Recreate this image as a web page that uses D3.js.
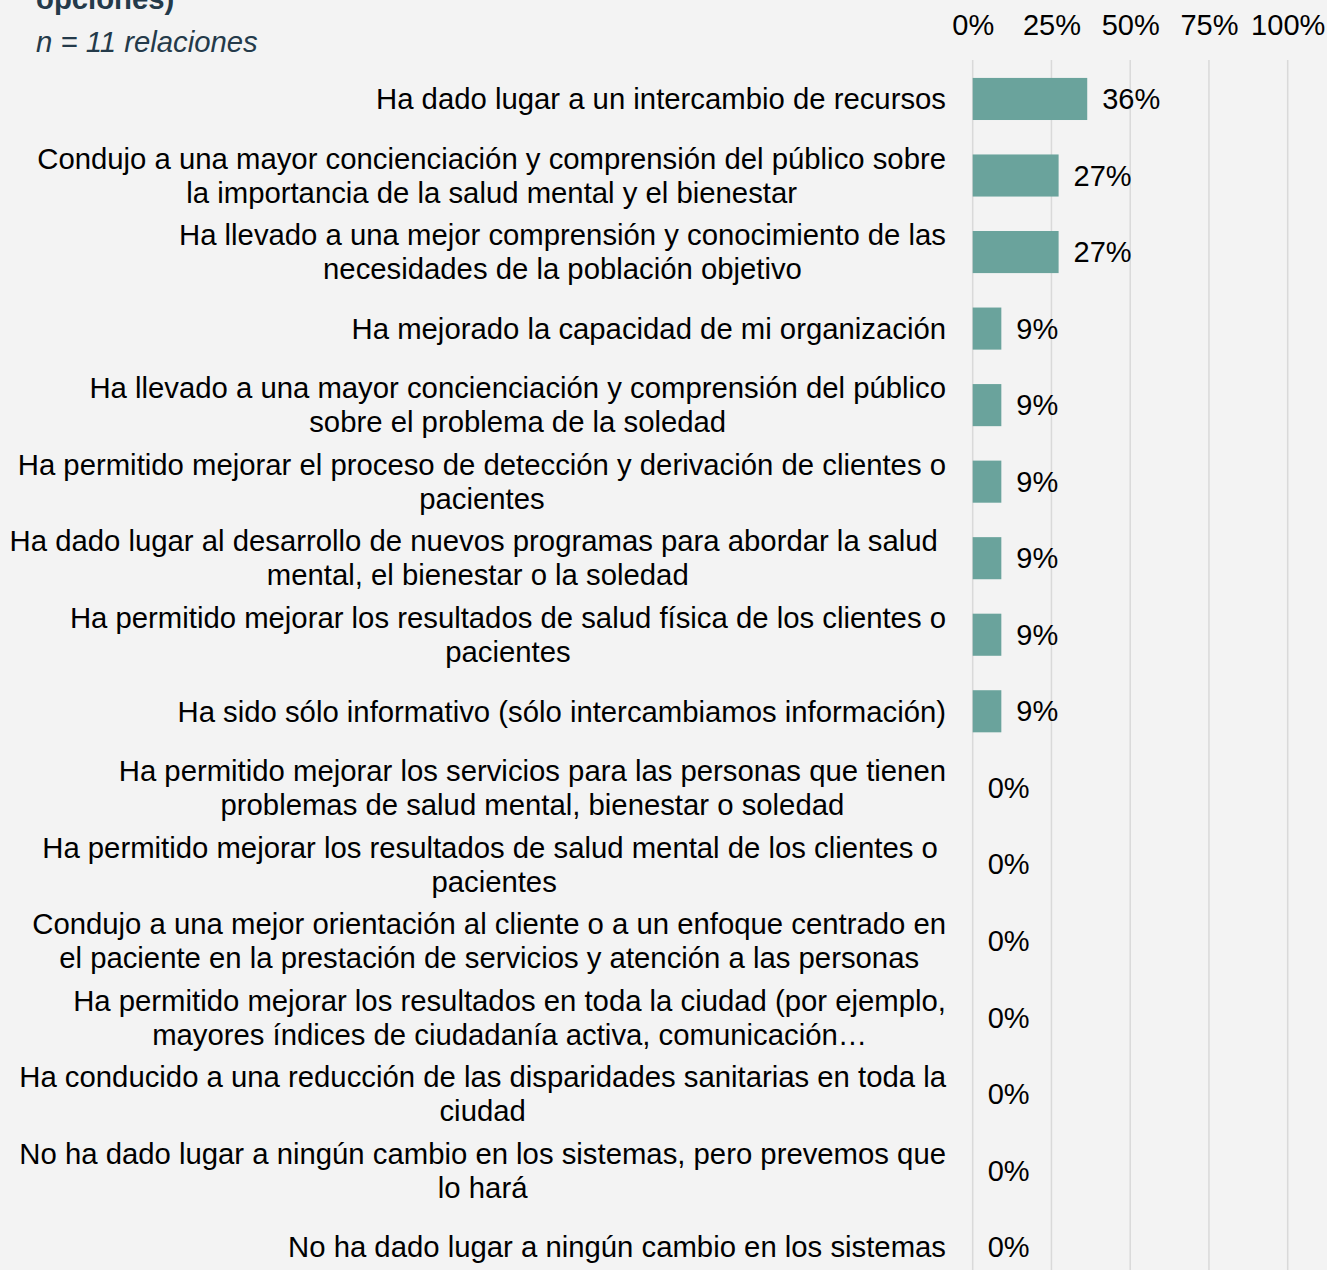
<!DOCTYPE html>
<html>
<head>
<meta charset="utf-8">
<script src="https://cdn.jsdelivr.net/npm/d3@7"></script>
<style>
  html, body { margin: 0; padding: 0; background: #f3f3f3; }
  svg { display: block; }
  text { font-family: "Liberation Sans", Arial, sans-serif; white-space: pre; }
</style>
</head>
<body>
<svg id="chart" width="1327" height="1270"></svg>
<script>
const categories = [
  "Ha dado lugar a un intercambio de recursos",
  "Condujo a una mayor concienciación y comprensión del público sobre\nla importancia de la salud mental y el bienestar",
  "Ha llevado a una mejor comprensión y conocimiento de las\nnecesidades de la población objetivo",
  "Ha mejorado la capacidad de mi organización",
  "Ha llevado a una mayor concienciación y comprensión del público\nsobre el problema de la soledad",
  "Ha permitido mejorar el proceso de detección y derivación de clientes o\npacientes",
  "Ha dado lugar al desarrollo de nuevos programas para abordar la salud \nmental, el bienestar o la soledad",
  "Ha permitido mejorar los resultados de salud física de los clientes o\npacientes",
  "Ha sido sólo informativo (sólo intercambiamos información)",
  "Ha permitido mejorar los servicios para las personas que tienen\nproblemas de salud mental, bienestar o soledad",
  "Ha permitido mejorar los resultados de salud mental de los clientes o \npacientes",
  "Condujo a una mejor orientación al cliente o a un enfoque centrado en\nel paciente en la prestación de servicios y atención a las personas",
  "Ha permitido mejorar los resultados en toda la ciudad (por ejemplo,\nmayores índices de ciudadanía activa, comunicación…",
  "Ha conducido a una reducción de las disparidades sanitarias en toda la\nciudad",
  "No ha dado lugar a ningún cambio en los sistemas, pero prevemos que\nlo hará",
  "No ha dado lugar a ningún cambio en los sistemas"
];
const values = [36.36, 27.27, 27.27, 9.09, 9.09, 9.09, 9.09, 9.09, 9.09, 0, 0, 0, 0, 0, 0, 0];
const valueLabels = ["36%", "27%", "27%", "9%", "9%", "9%", "9%", "9%", "9%", "0%", "0%", "0%", "0%", "0%", "0%", "0%"];
const tickValues = [0, 25, 50, 75, 100];
const tickLabels = ["0%", "25%", "50%", "75%", "100%"];
const subtitle = "n = 11 relaciones";
const titleTail = "opciones)";

const svg = d3.select("#chart");
const fontSize = 29.3;
const x = d3.scaleLinear().domain([0, 100]).range([972.7, 1287.7]);
const y = d3.scaleBand().domain(d3.range(categories.length)).range([60.7, 1285.3]).paddingInner(0.45).paddingOuter(0.225);

// title pieces
svg.append("text").attr("x", 36).attr("y", 9).attr("font-size", fontSize).attr("font-weight", "bold")
  .attr("fill", "#243a4a").text(titleTail);
svg.append("text").attr("x", 36).attr("y", 52).attr("font-size", fontSize).attr("font-style", "italic")
  .attr("fill", "#243a4a").text(subtitle);

// gridlines
svg.append("g").selectAll("line").data(tickValues).join("line")
  .attr("x1", d => x(d)).attr("x2", d => x(d))
  .attr("y1", 60).attr("y2", 1270)
  .attr("stroke", "#d9d9d9").attr("stroke-width", 1.5);

// top axis labels
const axis = d3.axisTop(x).tickValues(tickValues).tickFormat((d, i) => tickLabels[i]).tickSize(0).tickPadding(0);
const ag = svg.append("g").attr("transform", "translate(0,35)").call(axis);
ag.select(".domain").remove();
ag.selectAll("text").attr("font-size", 29).attr("font-family", "Liberation Sans, Arial, sans-serif")
  .attr("fill", "#000").attr("dy", 0);

// bars
svg.append("g").selectAll("rect").data(values).join("rect")
  .attr("x", x(0)).attr("y", (d, i) => y(i))
  .attr("width", d => x(d) - x(0)).attr("height", y.bandwidth())
  .attr("fill", "#6aa39c");

// value labels
svg.append("g").selectAll("text").data(values).join("text")
  .attr("x", d => x(d) + 15).attr("y", (d, i) => y(i) + y.bandwidth() / 2)
  .attr("dy", "0.35em").attr("font-size", 29).attr("fill", "#000")
  .text((d, i) => valueLabels[i]);

// category labels (right-aligned block, lines centered)
const rightEdge = 946;
const lineGap = 34;
const lg = svg.append("g");
categories.forEach((c, i) => {
  const lines = c.split("\n");
  const cy = y(i) + y.bandwidth() / 2;
  const g = lg.append("g");
  const texts = lines.map((ln, j) => g.append("text")
    .attr("y", cy + (j - (lines.length - 1) / 2) * lineGap)
    .attr("dy", "0.35em").attr("font-size", fontSize).attr("fill", "#000")
    .attr("text-anchor", "middle").text(ln));
  const maxW = d3.max(texts, t => t.node().getComputedTextLength());
  texts.forEach(t => t.attr("x", rightEdge - maxW / 2));
});
</script>
</body>
</html>
